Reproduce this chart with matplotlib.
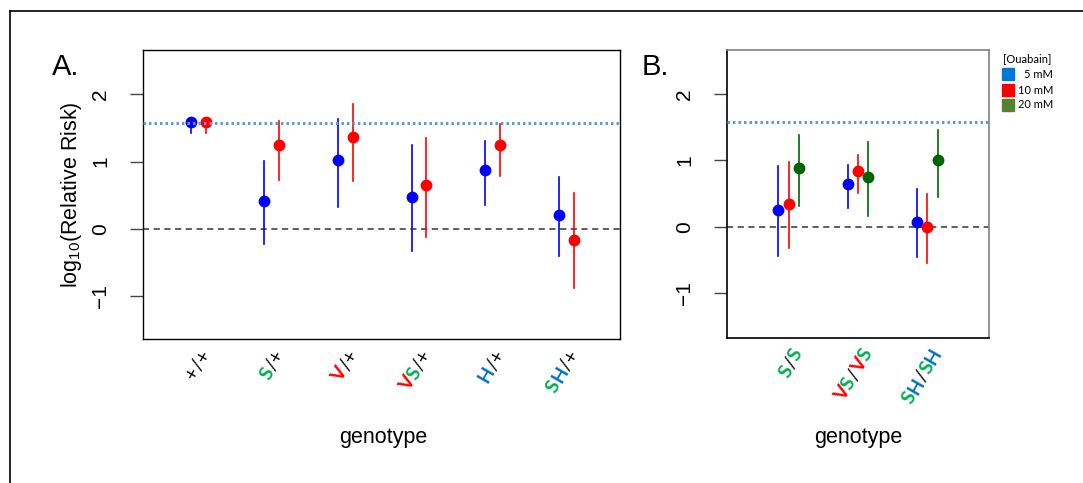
import numpy as np
import matplotlib
matplotlib.use('Agg')
import matplotlib.pyplot as plt
from matplotlib.lines import Line2D
from matplotlib.patches import Rectangle
from matplotlib.transforms import IdentityTransform, blended_transform_factory

plt.rcParams['font.family'] = ['Liberation Sans', 'DejaVu Sans']

# datos panel A
genotipos_a = ['+/+', 'S/+', 'V/+', 'VS/+', 'H/+', 'SH/+']
a_5mM = [1.59, 0.42, 1.03, 0.48, 0.88, 0.20]
a_5mM_lo = [1.42, -0.22, 0.32, -0.33, 0.35, -0.40]
a_5mM_hi = [1.65, 1.01, 1.64, 1.24, 1.31, 0.77]
a_10mM = [1.59, 1.24, 1.37, 0.65, 1.24, -0.16]
a_10mM_lo = [1.42, 0.73, 0.71, -0.12, 0.78, -0.88]
a_10mM_hi = [1.65, 1.60, 1.85, 1.35, 1.56, 0.53]

# datos panel B
genotipos_b = ['S/S', 'VS/VS', 'SH/SH']
b_5mM = [0.26, 0.64, 0.08]
b_5mM_lo = [-0.43, 0.29, -0.45]
b_5mM_hi = [0.92, 0.93, 0.57]
b_10mM = [0.35, 0.84, 0.00]
b_10mM_lo = [-0.32, 0.51, -0.54]
b_10mM_hi = [0.98, 1.08, 0.50]
b_20mM = [0.89, 0.75, 1.00]
b_20mM_lo = [0.31, 0.16, 0.45]
b_20mM_hi = [1.38, 1.28, 1.46]

nivel_ref = 1.58
yticks = [-1, 0, 1, 2]
ytick_labels = ['\u22121', '0', '1', '2']
leyenda = ['5 mM', '10 mM', '20 mM']

VERDE = '#00b050'
ROJO = '#ff0000'
AZUL = '#0070c0'
NEGRO = '#000000'
colores_letra = {'S': VERDE, 'V': ROJO, 'H': AZUL}

fig = plt.figure(figsize=(10.83, 4.83), dpi=100)

# borde de la figura
fig.add_artist(Line2D([9.5 / 1083, 9.5 / 1083], [0, 1 - 11 / 483], color='black', lw=1.2, transform=fig.transFigure))
fig.add_artist(Line2D([9.5 / 1083, 1], [1 - 11 / 483, 1 - 11 / 483], color='black', lw=1.2, transform=fig.transFigure))

ax_a = fig.add_axes([143 / 1083, 1 - 339 / 483, 477 / 1083, 289 / 483])
ax_b = fig.add_axes([727 / 1083, 1 - 338 / 483, 262 / 1083, 288 / 483])


def dibujar(ax, x, y, lo, hi, color):
    for xi, yi, l, h in zip(x, y, lo, hi):
        ax.plot([xi, xi], [l, h], color=color, lw=1.2, zorder=2)
    ax.plot(x, y, 'o', color=color, ms=7.5, mec=color, zorder=3)


def preparar(ax, ylim, xlim):
    ax.set_xlim(*xlim)
    ax.set_ylim(*ylim)
    ax.set_xticks([])
    ax.set_yticks(yticks)
    ax.set_yticklabels(ytick_labels, rotation=90, va='center', fontsize=15)
    ax.tick_params(axis='y', length=9.5, width=1, color='#444444', pad=14)
    ax.axhline(0, color='#333333', lw=1.1, ls=(0, (4, 3)), zorder=1)
    ax.axhline(nivel_ref, color='#5b9bd5', lw=2.2, ls=(0, (0.8, 1.0)), zorder=4)


# panel A
xa = np.arange(1, len(genotipos_a) + 1)
preparar(ax_a, (-1.64, 2.66), (0.25, 6.73))
dibujar(ax_a, xa - 0.1, a_5mM, a_5mM_lo, a_5mM_hi, '#0000ff')
dibujar(ax_a, xa + 0.1, a_10mM, a_10mM_lo, a_10mM_hi, '#ff0000')
for s in ax_a.spines.values():
    s.set_color('black')
    s.set_linewidth(1)

# panel B
xb = np.arange(1, len(genotipos_b) + 1)
preparar(ax_b, (-1.67, 2.66), (0.11, 3.89))
dibujar(ax_b, xb - 0.15, b_5mM, b_5mM_lo, b_5mM_hi, '#0000ff')
dibujar(ax_b, xb, b_10mM, b_10mM_lo, b_10mM_hi, '#ff0000')
dibujar(ax_b, xb + 0.15, b_20mM, b_20mM_lo, b_20mM_hi, '#006400')
for nombre, s in ax_b.spines.items():
    s.set_linewidth(1.2)
    s.set_color('#808080' if nombre in ('top', 'right') else 'black')

# ylabel y letras de panel
fig.text(72 / 1083, 1 - 194.5 / 483, r'log$_{\mathregular{10}}$(Relative Risk)',
         rotation=90, ha='center', va='center', fontsize=15.5)
fig.text(52 / 1083, 1 - 75 / 483, 'A.', fontsize=21, ha='left', va='baseline')
fig.text(642 / 1083, 1 - 75 / 483, 'B.', fontsize=21, ha='left', va='baseline')
fig.text(383 / 1083, 1 - 437 / 483, 'genotype', fontsize=15.5, ha='center', va='center')
fig.text(858 / 1083, 1 - 437 / 483, 'genotype', fontsize=15.5, ha='center', va='center')

# etiquetas de genotipo en colores, rotadas
renderer = fig.canvas.get_renderer()
ANG = 60
c, s_ = np.cos(np.radians(ANG)), np.sin(np.radians(ANG))


def fuente(ch):
    peso = 'bold' if ch in colores_letra else 'normal'
    return dict(family=['Lato', 'DejaVu Sans'], fontsize=14, fontweight=peso)


def etiqueta(ax, x, texto, dx=8, dy=-12):
    partes = [(ch, colores_letra.get(ch, NEGRO)) for ch in texto]
    anchos = []
    for ch, col in partes:
        t = fig.text(0, 0, ch, **fuente(ch))
        anchos.append(t.get_window_extent(renderer).width)
        t.remove()
    tr = blended_transform_factory(ax.transData, ax.transAxes)
    px, py = tr.transform((x, 0))
    px, py = px + dx, py + dy
    total = sum(anchos)
    sx, sy = px - total * c, py - total * s_
    for (ch, col), w in zip(partes, anchos):
        fig.text(sx, sy, ch, color=col, ha='left', va='center', rotation=ANG,
                 rotation_mode='anchor', transform=IdentityTransform(), **fuente(ch))
        sx += w * c
        sy += w * s_


for x, g in zip(xa, genotipos_a):
    etiqueta(ax_a, x, g)
for x, g in zip(xb, genotipos_b):
    etiqueta(ax_b, x, g, dx=10)

# leyenda
fuente_ley = dict(family=['Lato', 'DejaVu Sans'], fontsize=8)
fig.text(1003 / 1083, 1 - 59 / 483, '[Ouabain]', ha='left', va='center', **fuente_ley)
colores_ley = ['#0078d7', '#ff0000', '#548235']
ys_ley = [74, 90, 105]
for nombre, col, yl in zip(leyenda, colores_ley, ys_ley):
    fig.add_artist(Rectangle(((1002) / 1083, 1 - (yl + 6) / 483), 12 / 1083, 12 / 483,
                             color=col, transform=fig.transFigure))
    fig.text(1053 / 1083, 1 - yl / 483, nombre, ha='right', va='center', **fuente_ley)

fig.savefig('out.png', dpi=100)
